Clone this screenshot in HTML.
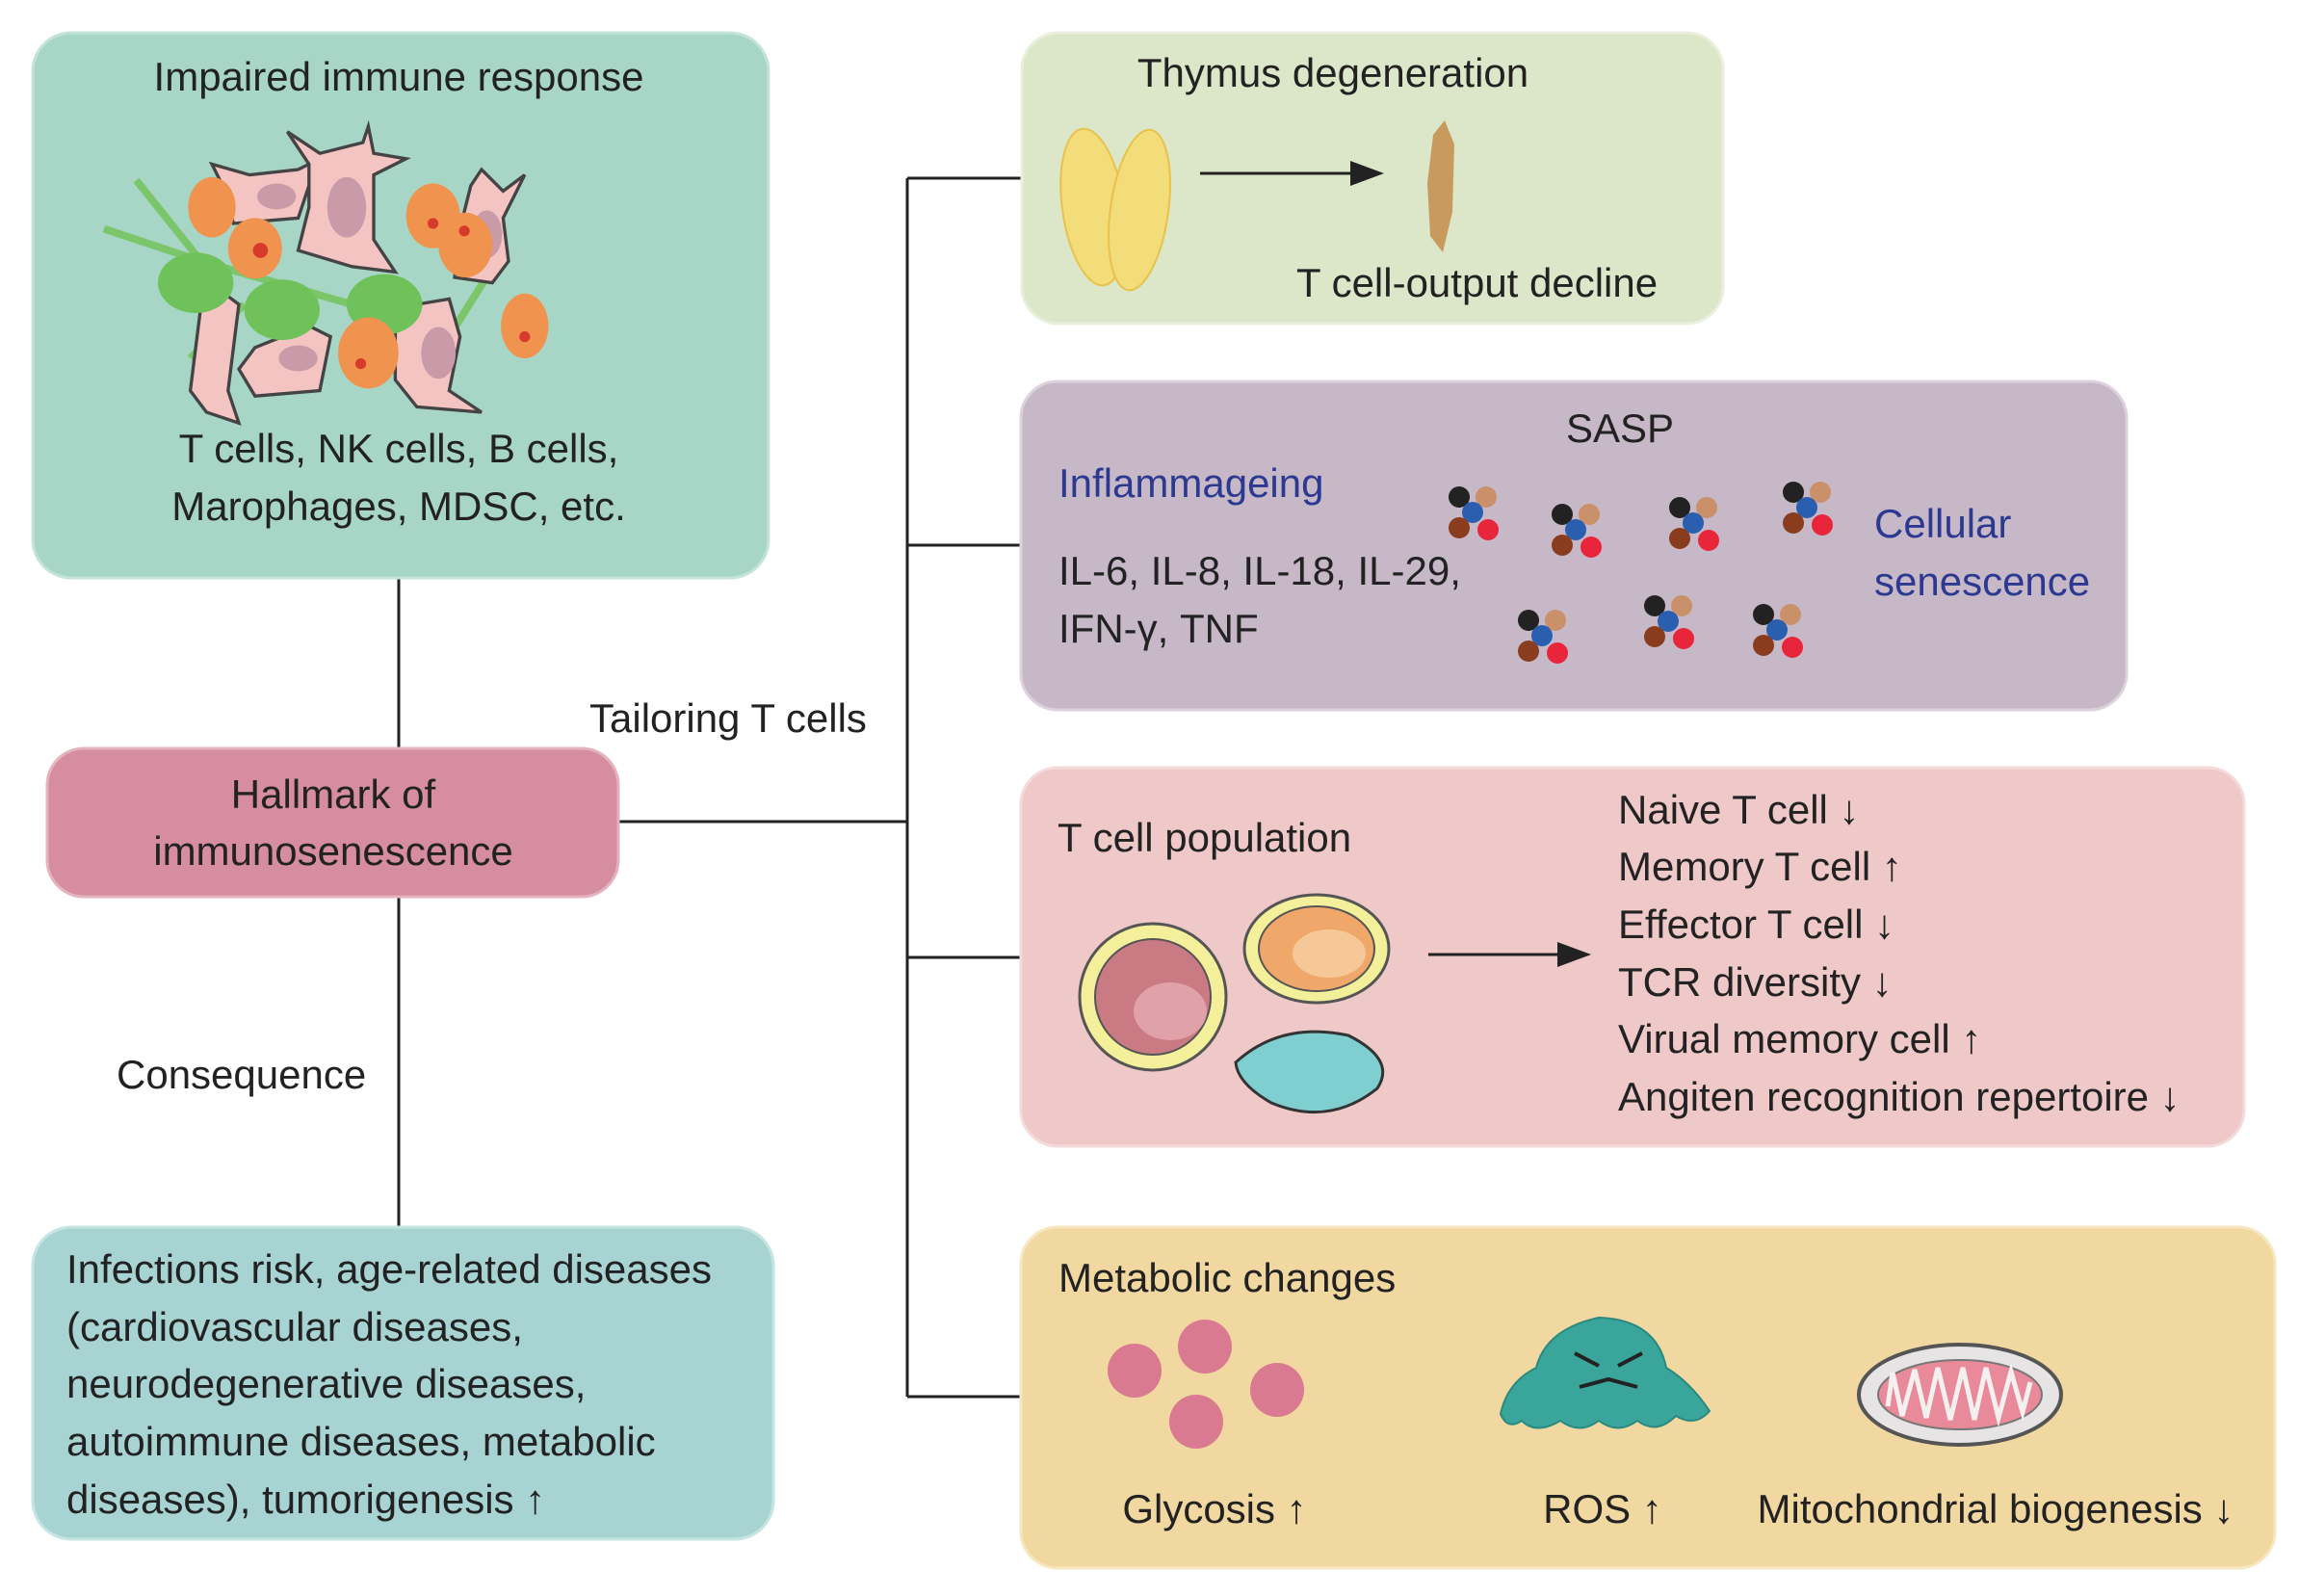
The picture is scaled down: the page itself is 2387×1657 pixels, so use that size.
<!DOCTYPE html>
<html><head><meta charset="utf-8"><style>
html,body{margin:0;padding:0;background:#fff;}
svg{display:block;}
text{font-family:"Liberation Sans",sans-serif;font-size:42px;fill:#222;}
</style></head><body>
<svg width="2387" height="1657" viewBox="0 0 2387 1657" xmlns="http://www.w3.org/2000/svg">
<g stroke="#222" stroke-width="3" fill="none">
<line x1="414" y1="600" x2="414" y2="777"/>
<line x1="414" y1="931" x2="414" y2="1274"/>
<line x1="642" y1="853" x2="942" y2="853"/>
<line x1="942" y1="185" x2="942" y2="1450"/>
<line x1="942" y1="185" x2="1061" y2="185"/>
<line x1="942" y1="566" x2="1060" y2="566"/>
<line x1="942" y1="994" x2="1060" y2="994"/>
<line x1="942" y1="1450" x2="1060" y2="1450"/>
</g>
<rect x="34" y="34" width="764" height="566" rx="40" fill="#a8d6c6" stroke="#c5e4d8" stroke-width="3"/>
<rect x="49" y="777" width="593" height="154" rx="38" fill="#d68d9f" stroke="#e5b3c0" stroke-width="3"/>
<rect x="34" y="1274" width="769" height="324" rx="40" fill="#a7d4d2" stroke="#c5e4e2" stroke-width="3"/>
<rect x="1061" y="34" width="728" height="302" rx="38" fill="#dce6c9" stroke="#e9efdc" stroke-width="3"/>
<rect x="1060" y="396" width="1148" height="341" rx="38" fill="#c7b8c8" stroke="#dcd1dc" stroke-width="3"/>
<rect x="1060" y="797" width="1270" height="393" rx="38" fill="#efc8c8" stroke="#f5dada" stroke-width="3"/>
<rect x="1060" y="1274" width="1302" height="354" rx="38" fill="#f1d8a0" stroke="#f7e6c0" stroke-width="3"/>

<g transform="translate(-60,-20) scale(1.12)">
<path d="M240 260 L150 230 M240 260 L180 185 M240 260 L380 300" stroke="#7bc66a" stroke-width="7" fill="none"/>
<path d="M230 350 L280 300 M470 330 L520 250" stroke="#7bc66a" stroke-width="7" fill="none"/>
<g fill="#f4c4c2" stroke="#444" stroke-width="3">
<path d="M260 190 L250 170 L285 180 L330 175 L350 165 L340 190 L330 220 L270 225 Z"/>
<path d="M340 170 L320 140 L350 160 L390 150 L395 135 L400 160 L430 165 L400 180 L400 240 L420 270 L380 265 L330 250 L340 210 Z"/>
<path d="M490 190 L500 175 L520 195 L540 180 L520 220 L525 260 L510 280 L475 275 L480 230 Z"/>
<path d="M240 300 L255 285 L275 300 L265 380 L275 410 L245 400 L230 380 Z"/>
<path d="M290 340 L340 320 L360 330 L350 380 L290 385 L275 360 Z"/>
<path d="M440 300 L470 295 L480 330 L470 380 L500 400 L440 395 L420 370 L420 320 Z"/>
</g>
<g fill="#c99aa8"><ellipse cx="310" cy="200" rx="18" ry="12"/><ellipse cx="375" cy="210" rx="18" ry="28"/><ellipse cx="505" cy="235" rx="14" ry="22"/><ellipse cx="460" cy="345" rx="16" ry="24"/><ellipse cx="330" cy="350" rx="18" ry="12"/></g>
<g fill="#6fc15a"><ellipse cx="235" cy="280" rx="35" ry="28"/><ellipse cx="315" cy="305" rx="35" ry="28"/><ellipse cx="410" cy="300" rx="35" ry="28"/></g>
<g fill="#f0934e"><ellipse cx="250" cy="210" rx="22" ry="28"/><ellipse cx="290" cy="248" rx="25" ry="28"/><ellipse cx="455" cy="218" rx="25" ry="30"/><ellipse cx="485" cy="245" rx="25" ry="30"/><ellipse cx="395" cy="345" rx="28" ry="33"/><ellipse cx="540" cy="320" rx="22" ry="30"/></g>
<g fill="#d63a2a"><circle cx="295" cy="250" r="7"/><circle cx="455" cy="225" r="5"/><circle cx="484" cy="232" r="5"/><circle cx="388" cy="355" r="5"/><circle cx="540" cy="330" r="5"/></g>
</g>

<g fill="#f3dc7a" stroke="#e8c24a" stroke-width="2">
<ellipse cx="1135" cy="215" rx="32" ry="82" transform="rotate(-8 1135 215)"/>
<ellipse cx="1183" cy="218" rx="30" ry="84" transform="rotate(8 1183 218)"/>
</g>
<path d="M1488 140 L1500 125 L1510 150 L1508 220 L1498 262 L1485 245 L1482 190 Z" fill="#c99a5e"/>
<line x1="1246" y1="180" x2="1410" y2="180" stroke="#222" stroke-width="3"/>
<polygon points="1437,180 1402,167 1402,193" fill="#222"/>

<g>
<g transform="translate(1529,532)"><circle cx="-14" cy="-16" r="11" fill="#222"/><circle cx="14" cy="-16" r="11" fill="#c9906a"/><circle cx="0" cy="0" r="11" fill="#2a5fb0"/><circle cx="-14" cy="16" r="11" fill="#8a3d1e"/><circle cx="16" cy="18" r="11" fill="#e8253a"/></g>
<g transform="translate(1636,550)"><circle cx="-14" cy="-16" r="11" fill="#222"/><circle cx="14" cy="-16" r="11" fill="#c9906a"/><circle cx="0" cy="0" r="11" fill="#2a5fb0"/><circle cx="-14" cy="16" r="11" fill="#8a3d1e"/><circle cx="16" cy="18" r="11" fill="#e8253a"/></g>
<g transform="translate(1758,543)"><circle cx="-14" cy="-16" r="11" fill="#222"/><circle cx="14" cy="-16" r="11" fill="#c9906a"/><circle cx="0" cy="0" r="11" fill="#2a5fb0"/><circle cx="-14" cy="16" r="11" fill="#8a3d1e"/><circle cx="16" cy="18" r="11" fill="#e8253a"/></g>
<g transform="translate(1876,527)"><circle cx="-14" cy="-16" r="11" fill="#222"/><circle cx="14" cy="-16" r="11" fill="#c9906a"/><circle cx="0" cy="0" r="11" fill="#2a5fb0"/><circle cx="-14" cy="16" r="11" fill="#8a3d1e"/><circle cx="16" cy="18" r="11" fill="#e8253a"/></g>
<g transform="translate(1601,660)"><circle cx="-14" cy="-16" r="11" fill="#222"/><circle cx="14" cy="-16" r="11" fill="#c9906a"/><circle cx="0" cy="0" r="11" fill="#2a5fb0"/><circle cx="-14" cy="16" r="11" fill="#8a3d1e"/><circle cx="16" cy="18" r="11" fill="#e8253a"/></g>
<g transform="translate(1732,645)"><circle cx="-14" cy="-16" r="11" fill="#222"/><circle cx="14" cy="-16" r="11" fill="#c9906a"/><circle cx="0" cy="0" r="11" fill="#2a5fb0"/><circle cx="-14" cy="16" r="11" fill="#8a3d1e"/><circle cx="16" cy="18" r="11" fill="#e8253a"/></g>
<g transform="translate(1845,654)"><circle cx="-14" cy="-16" r="11" fill="#222"/><circle cx="14" cy="-16" r="11" fill="#c9906a"/><circle cx="0" cy="0" r="11" fill="#2a5fb0"/><circle cx="-14" cy="16" r="11" fill="#8a3d1e"/><circle cx="16" cy="18" r="11" fill="#e8253a"/></g>
</g>

<circle cx="1197" cy="1035" r="76" fill="#f4ef9a" stroke="#555" stroke-width="3"/>
<circle cx="1197" cy="1035" r="60" fill="#c97a82" stroke="#555" stroke-width="2"/>
<ellipse cx="1215" cy="1050" rx="38" ry="30" fill="#e0a2a8"/>
<ellipse cx="1367" cy="985" rx="75" ry="56" fill="#f4ef9a" stroke="#555" stroke-width="3"/>
<ellipse cx="1367" cy="985" rx="60" ry="44" fill="#f0a86a" stroke="#555" stroke-width="2"/>
<ellipse cx="1380" cy="990" rx="38" ry="25" fill="#f6c898"/>
<path d="M1283 1103 Q1330 1060 1400 1075 Q1450 1100 1430 1130 Q1380 1170 1320 1145 Q1285 1125 1283 1103 Z" fill="#7fcfd1" stroke="#333" stroke-width="3"/>
<line x1="1483" y1="991" x2="1625" y2="991" stroke="#222" stroke-width="3"/>
<polygon points="1652,991 1617,978 1617,1004" fill="#222"/>

<g fill="#d97a90"><circle cx="1178" cy="1423" r="28"/><circle cx="1251" cy="1398" r="28"/><circle cx="1326" cy="1443" r="28"/><circle cx="1242" cy="1476" r="28"/></g>
<path d="M1558 1468 Q1565 1435 1595 1420 Q1605 1380 1660 1368 Q1720 1370 1730 1420 Q1755 1435 1775 1465 Q1760 1482 1740 1470 Q1720 1490 1700 1475 Q1680 1490 1660 1475 Q1640 1490 1620 1475 Q1595 1490 1580 1475 Q1565 1485 1558 1468 Z" fill="#3aa59a" stroke="#2b8a80" stroke-width="2"/>
<path d="M1635 1405 L1660 1418 M1705 1405 L1680 1418 M1640 1440 L1670 1432 L1700 1440" stroke="#222" stroke-width="4" fill="none"/>
<ellipse cx="2035" cy="1448" rx="105" ry="52" fill="#e7e4e6" stroke="#555" stroke-width="4"/>
<ellipse cx="2035" cy="1448" rx="85" ry="36" fill="#e98a9a" stroke="#777" stroke-width="2"/>
<path d="M1960 1460 L1965 1425 L1975 1470 L1988 1422 L2000 1472 L2012 1420 L2025 1474 L2038 1420 L2050 1474 L2062 1420 L2075 1472 L2088 1424 L2100 1466 L2108 1435" stroke="#f5f0f0" stroke-width="5" fill="none"/>

<text x="414" y="94" text-anchor="middle">Impaired immune response</text>
<text x="414" y="480" text-anchor="middle">T cells, NK cells, B cells,</text>
<text x="414" y="540" text-anchor="middle">Marophages, MDSC, etc.</text>
<text x="346" y="839" text-anchor="middle">Hallmark of</text>
<text x="346" y="898" text-anchor="middle">immunosenescence</text>
<text x="612" y="760">Tailoring T cells</text>
<text x="121" y="1130">Consequence</text>
<text x="69" y="1332">Infections risk, age-related diseases</text>
<text x="69" y="1392">(cardiovascular diseases,</text>
<text x="69" y="1451">neurodegenerative diseases,</text>
<text x="69" y="1511">autoimmune diseases, metabolic</text>
<text x="69" y="1571">diseases), tumorigenesis ↑</text>
<text x="1384" y="90" text-anchor="middle">Thymus degeneration</text>
<text x="1346" y="308">T cell-output decline</text>
<text x="1682" y="459" text-anchor="middle">SASP</text>
<text x="1099" y="516" style="fill:#2b3990">Inflammageing</text>
<text x="1099" y="607">IL-6, IL-8, IL-18, IL-29,</text>
<text x="1099" y="667">IFN-γ, TNF</text>
<text x="1946" y="558" style="fill:#2b3990">Cellular</text>
<text x="1946" y="618" style="fill:#2b3990">senescence</text>
<text x="1098" y="884">T cell population</text>
<text x="1680" y="855">Naive T cell ↓</text>
<text x="1680" y="914">Memory T cell ↑</text>
<text x="1680" y="974">Effector T cell ↓</text>
<text x="1680" y="1034">TCR diversity ↓</text>
<text x="1680" y="1093">Virual memory cell ↑</text>
<text x="1680" y="1153">Angiten recognition repertoire ↓</text>
<text x="1099" y="1341">Metabolic changes</text>
<text x="1261" y="1581" text-anchor="middle">Glycosis ↑</text>
<text x="1664" y="1581" text-anchor="middle">ROS ↑</text>
<text x="2072" y="1581" text-anchor="middle">Mitochondrial biogenesis ↓</text>
</svg>
</body></html>
